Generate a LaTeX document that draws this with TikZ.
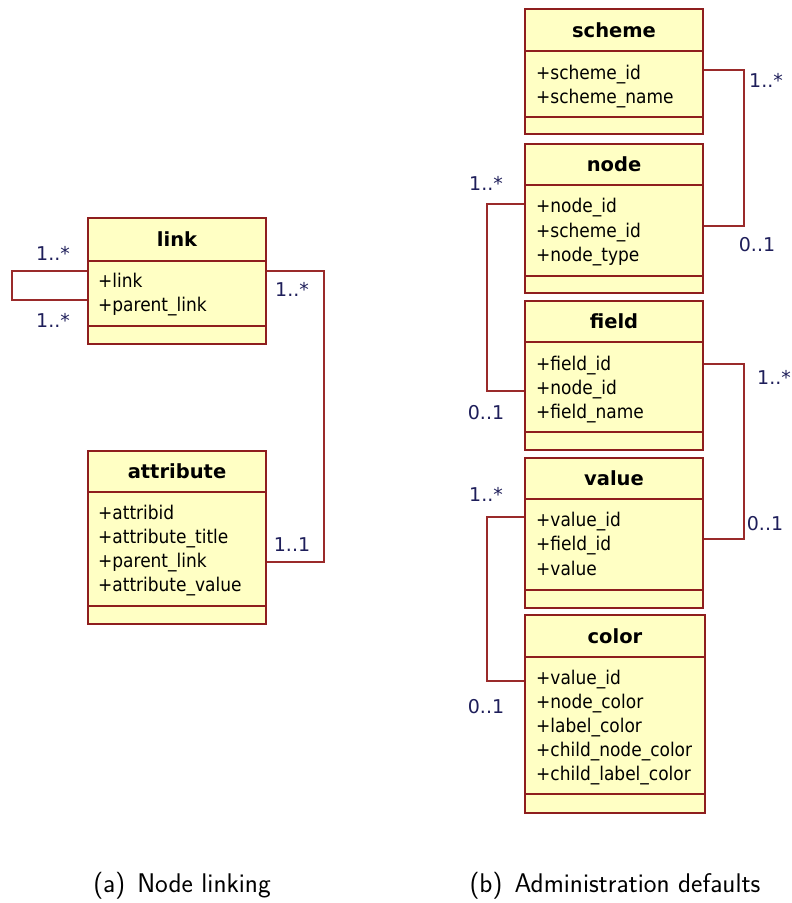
\documentclass[tikz,border=0pt]{standalone}
\usepackage{fontspec}
\setmainfont{DejaVu Sans Condensed}
\newfontfamily\widefont{DejaVu Sans}
\usetikzlibrary{calc}
\definecolor{boxfill}{HTML}{FFFFC4}
\definecolor{boxdraw}{HTML}{8E1E1E}
\definecolor{conncol}{HTML}{9A2A2A}
\definecolor{multcol}{HTML}{1E1E5A}
\tikzset{
  classbox/.style={draw=boxdraw, fill=boxfill, line width=2pt, inner sep=0pt, rectangle},
  sepline/.style={draw=boxdraw, line width=2pt},
  titletext/.style={font=\widefont\fontsize{19.5}{22}\selectfont\bfseries, anchor=base, inner sep=0pt},
  attrtext/.style={font=\fontsize{18.9}{20}\selectfont, anchor=base west, inner sep=0pt},
  conn/.style={draw=conncol, line width=1.6pt},
  mult/.style={font=\widefont\fontsize{19}{22}\selectfont, text=multcol, inner sep=0pt},
  captext/.style={font=\sffamily\fontsize{27}{31}\selectfont, inner sep=0pt}
}
% #1 name, #2 x1, #3 x2, #4 ytop, #5 yhead, #6 yattr, #7 ybot, #8 title
\newcommand\umlclass[8]{%
  \node[classbox, minimum width={#3pt-#2pt}, minimum height={#7pt-#4pt}] (#1) at ({(#2+#3)/2},{(#4+#7)/2}) {};
  \draw[sepline] (#2,#5) -- (#3,#5) (#2,#6) -- (#3,#6);
  \node[titletext] (#1-title) at ({(#2+#3)/2},{(#4+#5)/2+7}) {#8};
}
\begin{document}
\begin{tikzpicture}[x=1pt,y=-1pt]
\useasboundingbox (0,0) rectangle (792,903);
% (a) Node linking
\umlclass{link}{88}{266}{218}{261}{326}{344}{link}
\node[attrtext] (link-a1) at (98,287) {+link};
\node[attrtext] (link-a2) at (98,311) {+parent\_link};

\umlclass{attr}{88}{266}{451}{492}{606}{624}{attribute}
\node[attrtext] (attr-a1) at (98,519) {+attribid};
\node[attrtext] (attr-a2) at (98,543) {+attribute\_title};
\node[attrtext] (attr-a3) at (98,567) {+parent\_link};
\node[attrtext] (attr-a4) at (98,591) {+attribute\_value};

% (b) Administration defaults
\umlclass{scheme}{525}{703}{9}{51}{117}{134}{scheme}
\node[attrtext] (scheme-a1) at (536,79) {+scheme\_id};
\node[attrtext] (scheme-a2) at (536,103) {+scheme\_name};

\umlclass{node}{525}{703}{144}{185}{276}{293}{node}
\node[attrtext] (node-a1) at (536,212) {+node\_id};
\node[attrtext] (node-a2) at (536,237) {+scheme\_id};
\node[attrtext] (node-a3) at (536,261) {+node\_type};

\umlclass{field}{525}{703}{301}{342}{432}{450}{field}
\node[attrtext] (field-a1) at (536,370) {+field\_id};
\node[attrtext] (field-a2) at (536,394) {+node\_id};
\node[attrtext] (field-a3) at (536,418) {+field\_name};

\umlclass{value}{525}{703}{458}{499}{590}{608}{value}
\node[attrtext] (value-a1) at (536,526) {+value\_id};
\node[attrtext] (value-a2) at (536,550) {+field\_id};
\node[attrtext] (value-a3) at (536,575) {+value};

\umlclass{color}{525}{705}{615}{657}{794}{813}{color}
\node[attrtext] (color-a1) at (536,684) {+value\_id};
\node[attrtext] (color-a2) at (536,708) {+node\_color};
\node[attrtext] (color-a3) at (536,732) {+label\_color};
\node[attrtext] (color-a4) at (536,756) {+child\_node\_color};
\node[attrtext] (color-a5) at (536,780) {+child\_label\_color};

% connectors
\draw[conn] ([yshift=-54pt]link.north west) -- ++(-75,0) |- ([yshift=-83pt]link.north west);
\draw[conn] ([yshift=-54pt]link.north east) -- ++(57,0) |- ([yshift=-112pt]attr.north east);
\draw[conn] ([yshift=-62pt]scheme.north east) -- ++(40,0) |- ([yshift=-83pt]node.north east);
\draw[conn] ([yshift=-61pt]node.north west) -- ++(-37,0) |- ([yshift=-91pt]field.north west);
\draw[conn] ([yshift=-64pt]field.north east) -- ++(40,0) |- ([yshift=-82pt]value.north east);
\draw[conn] ([yshift=-60pt]value.north west) -- ++(-37,0) |- ([yshift=-67pt]color.north west);

% multiplicities
\node[mult] (m1) at (53,253) {1..*};
\node[mult] (m2) at (53,320) {1..*};
\node[mult] (m3) at (292,289) {1..*};
\node[mult] (m4) at (292,545) {1..1};
\node[mult] (m5) at (766,80) {1..*};
\node[mult] (m6) at (757,245) {0..1};
\node[mult] (m7) at (486,183) {1..*};
\node[mult] (m8) at (486,413) {0..1};
\node[mult] (m9) at (774,377) {1..*};
\node[mult] (m10) at (765,524) {0..1};
\node[mult] (m11) at (486,494) {1..*};
\node[mult] (m12) at (486,707) {0..1};

% captions
\node[captext] (capa) at (182,886) {(a)\hspace{0.45em}Node linking};
\node[captext] (capb) at (615,886) {(b)\hspace{0.45em}Administration defaults};
\end{tikzpicture}
\end{document}
